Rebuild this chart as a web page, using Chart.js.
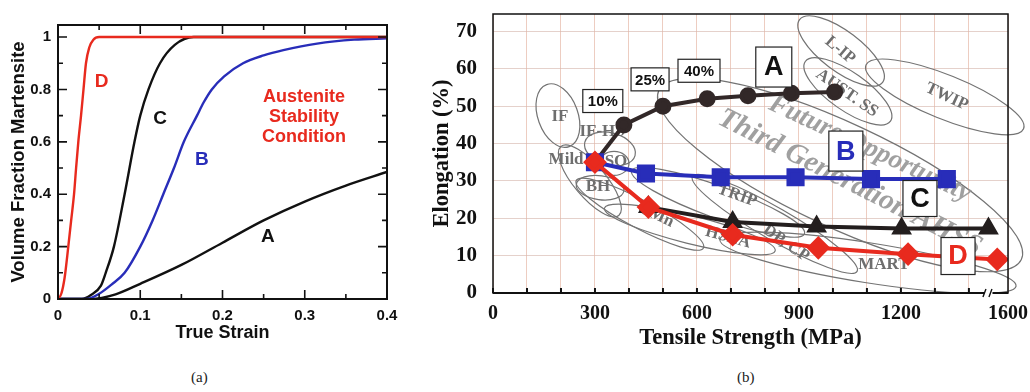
<!DOCTYPE html>
<html>
<head>
<meta charset="utf-8">
<script src="https://cdn.jsdelivr.net/npm/chart.js@4.4.1/dist/chart.umd.min.js"></script>
<style>
  html, body { margin: 0; padding: 0; background: #fff; }
  body { width: 1030px; height: 392px; position: relative; overflow: hidden; }
  #chartA { position: absolute; left: 0; top: 0; }
  #chartB { position: absolute; left: 420px; top: 0; }
  .cap { position: absolute; top: 369px; font: 15px "Liberation Serif", serif; color: #222; }
</style>
</head>
<body>
<canvas id="chartA" width="420" height="350"></canvas>
<canvas id="chartB" width="610" height="362"></canvas>
<div class="cap" style="left:191px">(a)</div>
<div class="cap" style="left:737px">(b)</div>

<script>
// ---- (a) martensite fraction vs true strain ----
const strainTicks = [0, 0.1, 0.2, 0.3, 0.4];
const fracTicks = [0, 0.2, 0.4, 0.6, 0.8, 1];

const strainA = [0, 0.04, 0.07, 0.1, 0.15, 0.2, 0.25, 0.3, 0.35, 0.4];
const fracA = [0, 0, 0.018, 0.058, 0.13, 0.215, 0.3, 0.372, 0.433, 0.485];

const strainB = [0, 0.035, 0.05, 0.065, 0.081, 0.1, 0.115, 0.128, 0.141, 0.153, 0.169, 0.177, 0.187, 0.202, 0.225, 0.25, 0.274, 0.315, 0.36, 0.4];
const fracB = [0, 0, 0.02, 0.055, 0.1, 0.2, 0.3, 0.4, 0.5, 0.6, 0.7, 0.75, 0.8, 0.85, 0.9, 0.93, 0.95, 0.975, 0.99, 0.995];

const strainC = [0, 0.029, 0.04, 0.052, 0.058, 0.068, 0.081, 0.093, 0.1, 0.11, 0.124, 0.142, 0.165, 0.4];
const fracC = [0, 0, 0.015, 0.05, 0.1, 0.2, 0.4, 0.6, 0.7, 0.8, 0.9, 0.97, 1, 1];

const strainD = [0, 0.004, 0.008, 0.0125, 0.016, 0.0195, 0.022, 0.0247, 0.028, 0.031, 0.034, 0.038, 0.043, 0.05, 0.4];
const fracD = [0, 0.02, 0.08, 0.2, 0.3, 0.4, 0.5, 0.6, 0.7, 0.8, 0.9, 0.96, 0.99, 1, 1];

// ---- (b) elongation vs tensile strength ----
const tsTicks = [0, 300, 600, 900, 1200, 1600];
const tsGrid = [0, 100, 200, 300, 400, 500, 600, 700, 800, 900, 1000, 1100, 1200, 1300, 1400];
const elTicks = [0, 10, 20, 30, 40, 50, 60, 70];

const tsA = [300, 385, 500, 630, 750, 878, 1005];
const elA = [35, 45, 50, 52, 52.8, 53.5, 53.8];
const tsB = [300, 450, 670, 890, 1112, 1335];
const elB = [35, 32, 31, 31, 30.5, 30.5];
const tsC = [457, 705, 952, 1202, 1500];
const elC = [23, 19, 17.8, 17.3, 17.3];
const tsD = [300, 457, 705, 957, 1221, 1545];
const elD = [35, 23, 15.6, 12.1, 10.4, 9];

const RED = 'rgb(232,42,30)';
const BLUE = 'rgb(40,45,185)';
const SANS = '"Liberation Sans", Arial, sans-serif';
const SERIF = '"Liberation Serif", "Times New Roman", serif';

// broken axis: everything past 1400 MPa is squeezed
const BREAK_AT = 1400, BREAK_K = 0.575;
function brk(v) { return v <= BREAK_AT ? v : BREAK_AT + (v - BREAK_AT) * BREAK_K; }

function zip(xs, ys, fx) {
  return xs.map((x, i) => ({ x: fx ? fx(x) : x, y: ys[i] }));
}

// keep the plot box where we put it (no extra room for edge labels)
function fixW(w) { return s => { s.width = w; s.paddingTop = 0; s.paddingBottom = 0; }; }
function fixH(h) { return s => { s.height = h; s.paddingLeft = 0; s.paddingRight = 0; }; }

// ---------- panel (a) ----------
const curveLabels = [
  { t: 'D', x: 0.053, y: 0.829, c: RED },
  { t: 'C', x: 0.124, y: 0.687, c: '#111' },
  { t: 'B', x: 0.175, y: 0.531, c: BLUE },
  { t: 'A', x: 0.255, y: 0.237, c: '#111' }
];
const noteLines = ['Austenite', 'Stability', 'Condition'];

const framePluginA = {
  id: 'frameA',
  afterDatasetsDraw(chart) {
    const { ctx, chartArea: a, scales: { x, y } } = chart;
    ctx.save();
    ctx.strokeStyle = '#111';
    ctx.lineWidth = 2;
    ctx.strokeRect(a.left, a.top, a.right - a.left, a.bottom - a.top);
    ctx.lineWidth = 1.6;
    ctx.beginPath();
    fracTicks.concat([0.1, 0.3, 0.5, 0.7, 0.9]).forEach((v, i) => {
      const len = i < fracTicks.length ? 9 : 5;
      const py = y.getPixelForValue(v);
      ctx.moveTo(a.left, py); ctx.lineTo(a.left + len, py);
      ctx.moveTo(a.right, py); ctx.lineTo(a.right - len, py);
    });
    strainTicks.concat([0.05, 0.15, 0.25, 0.35]).forEach((v, i) => {
      const len = i < strainTicks.length ? 9 : 5;
      const px = x.getPixelForValue(v);
      ctx.moveTo(px, a.bottom); ctx.lineTo(px, a.bottom - len);
      ctx.moveTo(px, a.top); ctx.lineTo(px, a.top + len);
    });
    ctx.stroke();

    ctx.textAlign = 'center';
    ctx.textBaseline = 'middle';
    ctx.font = 'bold 19px ' + SANS;
    curveLabels.forEach(l => {
      ctx.fillStyle = l.c;
      ctx.fillText(l.t, x.getPixelForValue(l.x), y.getPixelForValue(l.y));
    });
    ctx.font = 'bold 18px ' + SANS;
    ctx.fillStyle = RED;
    noteLines.forEach((t, i) => {
      ctx.fillText(t, x.getPixelForValue(0.299), y.getPixelForValue(0.771 - i * 0.077));
    });
    ctx.restore();
  }
};

const lineDs = (label, xs, ys, color, order) => ({
  label, data: zip(xs, ys), borderColor: color, backgroundColor: color,
  borderWidth: 2.4, pointRadius: 0, cubicInterpolationMode: 'monotone', order
});

new Chart(document.getElementById('chartA'), {
  type: 'line',
  data: {
    datasets: [
      lineDs('D', strainD, fracD, RED, 0),
      lineDs('C', strainC, fracC, '#111', 2),
      lineDs('B', strainB, fracB, BLUE, 1),
      lineDs('A', strainA, fracA, '#111', 3)
    ]
  },
  options: {
    responsive: false,
    animation: false,
    layout: { padding: { left: 0, right: 33, top: 25, bottom: 0 } },
    plugins: { legend: { display: false }, tooltip: { enabled: false } },
    scales: {
      x: {
        type: 'linear', min: 0, max: 0.4,
        afterBuildTicks: s => { s.ticks = strainTicks.map(v => ({ value: v })); },
        afterFit: fixH(51),
        grid: { display: false, drawTicks: false },
        border: { display: false },
        ticks: { padding: 8, color: '#111', autoSkip: false, maxRotation: 0,
          font: { family: SANS, size: 15, weight: 'bold' }, callback: v => String(v) },
        title: { display: true, text: 'True Strain', color: '#111',
          font: { family: SANS, size: 18, weight: 'bold' }, padding: { top: 0, bottom: 6 } }
      },
      y: {
        type: 'linear', min: 0, max: 1.046,
        afterBuildTicks: s => { s.ticks = fracTicks.map(v => ({ value: v })); },
        afterFit: fixW(58),
        grid: { display: false, drawTicks: false },
        border: { display: false },
        ticks: { padding: 7, color: '#111',
          font: { family: SANS, size: 15, weight: 'bold' }, callback: v => String(v) },
        title: { display: true, text: 'Volume Fraction Martensite', color: '#111',
          font: { family: SANS, size: 18.5, weight: 'bold' }, padding: { top: 8, bottom: 0 } }
      }
    }
  },
  plugins: [framePluginA]
});

// ---------- panel (b) ----------
// steel classes drawn as outlines (centre in data units, radii in px)
const zones = [
  { x: 191, y: 47.5, rx: 20, ry: 33, rot: -20 },   // IF
  { x: 344, y: 38.6, rx: 26, ry: 16, rot: 15 },    // IF-HS
  { x: 285, y: 30, rx: 45, ry: 16, rot: 50 },      // Mild
  { x: 356, y: 34.7, rx: 15, ry: 12, rot: 0 },     // ISO
  { x: 315, y: 28.2, rx: 24, ry: 12, rot: 8 },     // BH
  { x: 432, y: 21.1, rx: 72, ry: 14, rot: 28 },    // CMn
  { x: 662, y: 24.3, rx: 92, ry: 16, rot: 20 },    // TRIP
  { x: 579, y: 17, rx: 88, ry: 14, rot: 14 },      // HSLA
  { x: 829, y: 18.5, rx: 95, ry: 16, rot: 30 },    // DP-CP
  { x: 1103, y: 8.1, rx: 150, ry: 20, rot: 9 },    // MART
  { x: 1024, y: 64.8, rx: 52, ry: 20, rot: 37 },   // L-IP
  { x: 1044, y: 54, rx: 52, ry: 19, rot: 35 },     // AUST. SS
  { x: 1329, y: 52.5, rx: 85, ry: 22, rot: 22 },   // TWIP
  { x: 1021, y: 31.6, rx: 200, ry: 52, rot: 25 }   // third generation
];
const zoneLabels = [
  { t: 'IF', x: 197, y: 47.3, rot: 0 },
  { t: 'IF-HS', x: 321, y: 43.1, rot: 0 },
  { t: 'Mild', x: 215, y: 35.8, rot: 0 },
  { t: 'ISO', x: 352, y: 35.2, rot: 0 },
  { t: 'BH', x: 309, y: 28.5, rot: 0 },
  { t: 'CMn', x: 479, y: 20.9, rot: 25 },
  { t: 'TRIP', x: 718, y: 26.1, rot: 20 },
  { t: 'HSLA', x: 691, y: 14.9, rot: 15 },
  { t: 'DP, CP', x: 862, y: 13.3, rot: 35 },
  { t: 'MART', x: 1150, y: 7.6, rot: 0 },
  { t: 'L-IP', x: 1021, y: 65, rot: 40 },
  { t: 'AUST. SS', x: 1041, y: 53.5, rot: 35 },
  { t: 'TWIP', x: 1335, y: 52.5, rot: 25 }
];
const bigNotes = [
  { t: 'Future Opportunity', x: 1109, y: 38.6, rot: 25, size: 27 },
  { t: 'Third Generation AHSS', x: 1050, y: 29.5, rot: 27, size: 29 }
];
const boxes = [
  { t: '10%', x: 323, y: 51.4, w: 40, h: 23, c: '#111', size: 15 },
  { t: '25%', x: 462, y: 57.2, w: 38, h: 23, c: '#111', size: 15 },
  { t: '40%', x: 606, y: 59.5, w: 42, h: 23, c: '#111', size: 15 },
  { t: 'A', x: 826, y: 60.5, w: 36, h: 40, c: '#111', size: 27 },
  { t: 'B', x: 1038, y: 38, w: 34, h: 40, c: BLUE, size: 27 },
  { t: 'C', x: 1256, y: 25.3, w: 34, h: 36, c: '#111', size: 27 },
  { t: 'D', x: 1368, y: 9.9, w: 34, h: 37, c: RED, size: 27 }
];

const annotB = {
  id: 'annotB',
  beforeDatasetsDraw(chart) {
    const { ctx, scales: { x, y } } = chart;
    const px = v => x.getPixelForValue(brk(v));
    const py = v => y.getPixelForValue(v);
    ctx.save();
    ctx.strokeStyle = 'rgb(115,115,115)';
    ctx.lineWidth = 1.2;
    zones.forEach(z => {
      ctx.beginPath();
      ctx.ellipse(px(z.x), py(z.y), z.rx, z.ry, z.rot * Math.PI / 180, 0, Math.PI * 2);
      ctx.stroke();
    });
    ctx.textAlign = 'center';
    ctx.textBaseline = 'middle';
    bigNotes.forEach(n => {
      ctx.save();
      ctx.translate(px(n.x), py(n.y));
      ctx.rotate(n.rot * Math.PI / 180);
      ctx.font = 'italic bold ' + n.size + 'px ' + SERIF;
      ctx.fillStyle = 'rgba(150,150,150,0.9)';
      ctx.fillText(n.t, 0, 0);
      ctx.restore();
    });
    zoneLabels.forEach(l => {
      ctx.save();
      ctx.translate(px(l.x), py(l.y));
      ctx.rotate(l.rot * Math.PI / 180);
      ctx.font = 'bold 17px ' + SERIF;
      ctx.fillStyle = 'rgb(110,110,110)';
      ctx.fillText(l.t, 0, 0);
      ctx.restore();
    });
    ctx.restore();
  },
  afterDatasetsDraw(chart) {
    const { ctx, chartArea: a, scales: { x, y } } = chart;
    const px = v => x.getPixelForValue(brk(v));
    const py = v => y.getPixelForValue(v);
    ctx.save();
    ctx.textAlign = 'center';
    ctx.textBaseline = 'middle';
    boxes.forEach(b => {
      const cx = px(b.x), cy = py(b.y);
      ctx.fillStyle = '#fff';
      ctx.fillRect(cx - b.w / 2, cy - b.h / 2, b.w, b.h);
      ctx.strokeStyle = '#222';
      ctx.lineWidth = 1.2;
      ctx.strokeRect(cx - b.w / 2, cy - b.h / 2, b.w, b.h);
      ctx.fillStyle = b.c;
      ctx.font = 'bold ' + b.size + 'px ' + SANS;
      ctx.fillText(b.t, cx, cy + 1);
    });
    // frame and bottom ticks
    ctx.strokeStyle = '#111';
    ctx.lineWidth = 1.5;
    ctx.strokeRect(a.left, a.top, a.right - a.left, a.bottom - a.top);
    ctx.lineWidth = 2;
    ctx.beginPath();
    ctx.moveTo(a.left, a.bottom); ctx.lineTo(a.right, a.bottom);
    tsGrid.forEach(v => {
      const p = x.getPixelForValue(v);
      ctx.moveTo(p, a.bottom); ctx.lineTo(p, a.bottom - 5);
    });
    ctx.stroke();
    // axis break marks
    const bx = x.getPixelForValue(brk(1500));
    ctx.fillStyle = '#fff';
    ctx.fillRect(bx - 4, a.bottom - 3, 8, 6);
    ctx.lineWidth = 1.4;
    ctx.beginPath();
    [-4, 2].forEach(d => {
      ctx.moveTo(bx + d - 1.5, a.bottom + 4); ctx.lineTo(bx + d + 1.5, a.bottom - 4);
    });
    ctx.stroke();
    ctx.restore();
  }
};

const seriesDs = (label, xs, ys, color, style, radius, order) => ({
  label, data: zip(xs, ys, brk), borderColor: color, backgroundColor: color,
  pointBorderColor: color, pointBackgroundColor: color,
  borderWidth: 4, pointStyle: style, pointRadius: radius, tension: 0, order
});

new Chart(document.getElementById('chartB'), {
  type: 'line',
  data: {
    datasets: [
      seriesDs('D', tsD, elD, RED, 'rectRot', 9, 0),
      seriesDs('B', tsB, elB, BLUE, 'rect', 10, 1),
      seriesDs('C', tsC, elC, 'rgb(35,30,30)', 'triangle', 8, 2),
      seriesDs('A', tsA, elA, 'rgb(50,40,40)', 'circle', 6.5, 3)
    ]
  },
  options: {
    responsive: false,
    animation: false,
    layout: { padding: { left: 0, right: 22, top: 7, bottom: 0 } },
    plugins: { legend: { display: false }, tooltip: { enabled: false } },
    scales: {
      x: {
        type: 'linear', min: 0, max: brk(1600),
        afterBuildTicks: s => {
          s.ticks = tsGrid.map(v => ({ value: v })).concat([{ value: brk(1600) }]);
        },
        afterFit: fixH(69),
        grid: { color: 'rgba(228,178,160,0.65)', lineWidth: 1, drawTicks: false },
        border: { display: false },
        ticks: {
          padding: 9, color: '#111', autoSkip: false, maxRotation: 0,
          font: { family: SERIF, size: 20, weight: 'bold' },
          callback: value => {
            const hit = tsTicks.find(t => Math.abs(brk(t) - value) < 0.5);
            return hit === undefined ? '' : String(hit);
          }
        },
        title: { display: true, text: 'Tensile Strength (MPa)', color: '#111',
          font: { family: SERIF, size: 22.5, weight: 'bold' }, padding: { top: 0, bottom: 10 } }
      },
      y: {
        type: 'linear', min: 0, max: 74.7,
        afterBuildTicks: s => { s.ticks = elTicks.map(v => ({ value: v })); },
        afterFit: fixW(73),
        grid: { color: 'rgba(215,185,175,0.65)', lineWidth: 1, drawTicks: false },
        border: { display: false },
        ticks: { padding: 16, color: '#111',
          font: { family: SERIF, size: 21, weight: 'bold' }, callback: v => String(v) },
        title: { display: true, text: 'Elongation (%)', color: '#111',
          font: { family: SERIF, size: 22.5, weight: 'bold' }, padding: { top: 9, bottom: 0 } }
      }
    }
  },
  plugins: [annotB]
});
</script>
</body>
</html>
